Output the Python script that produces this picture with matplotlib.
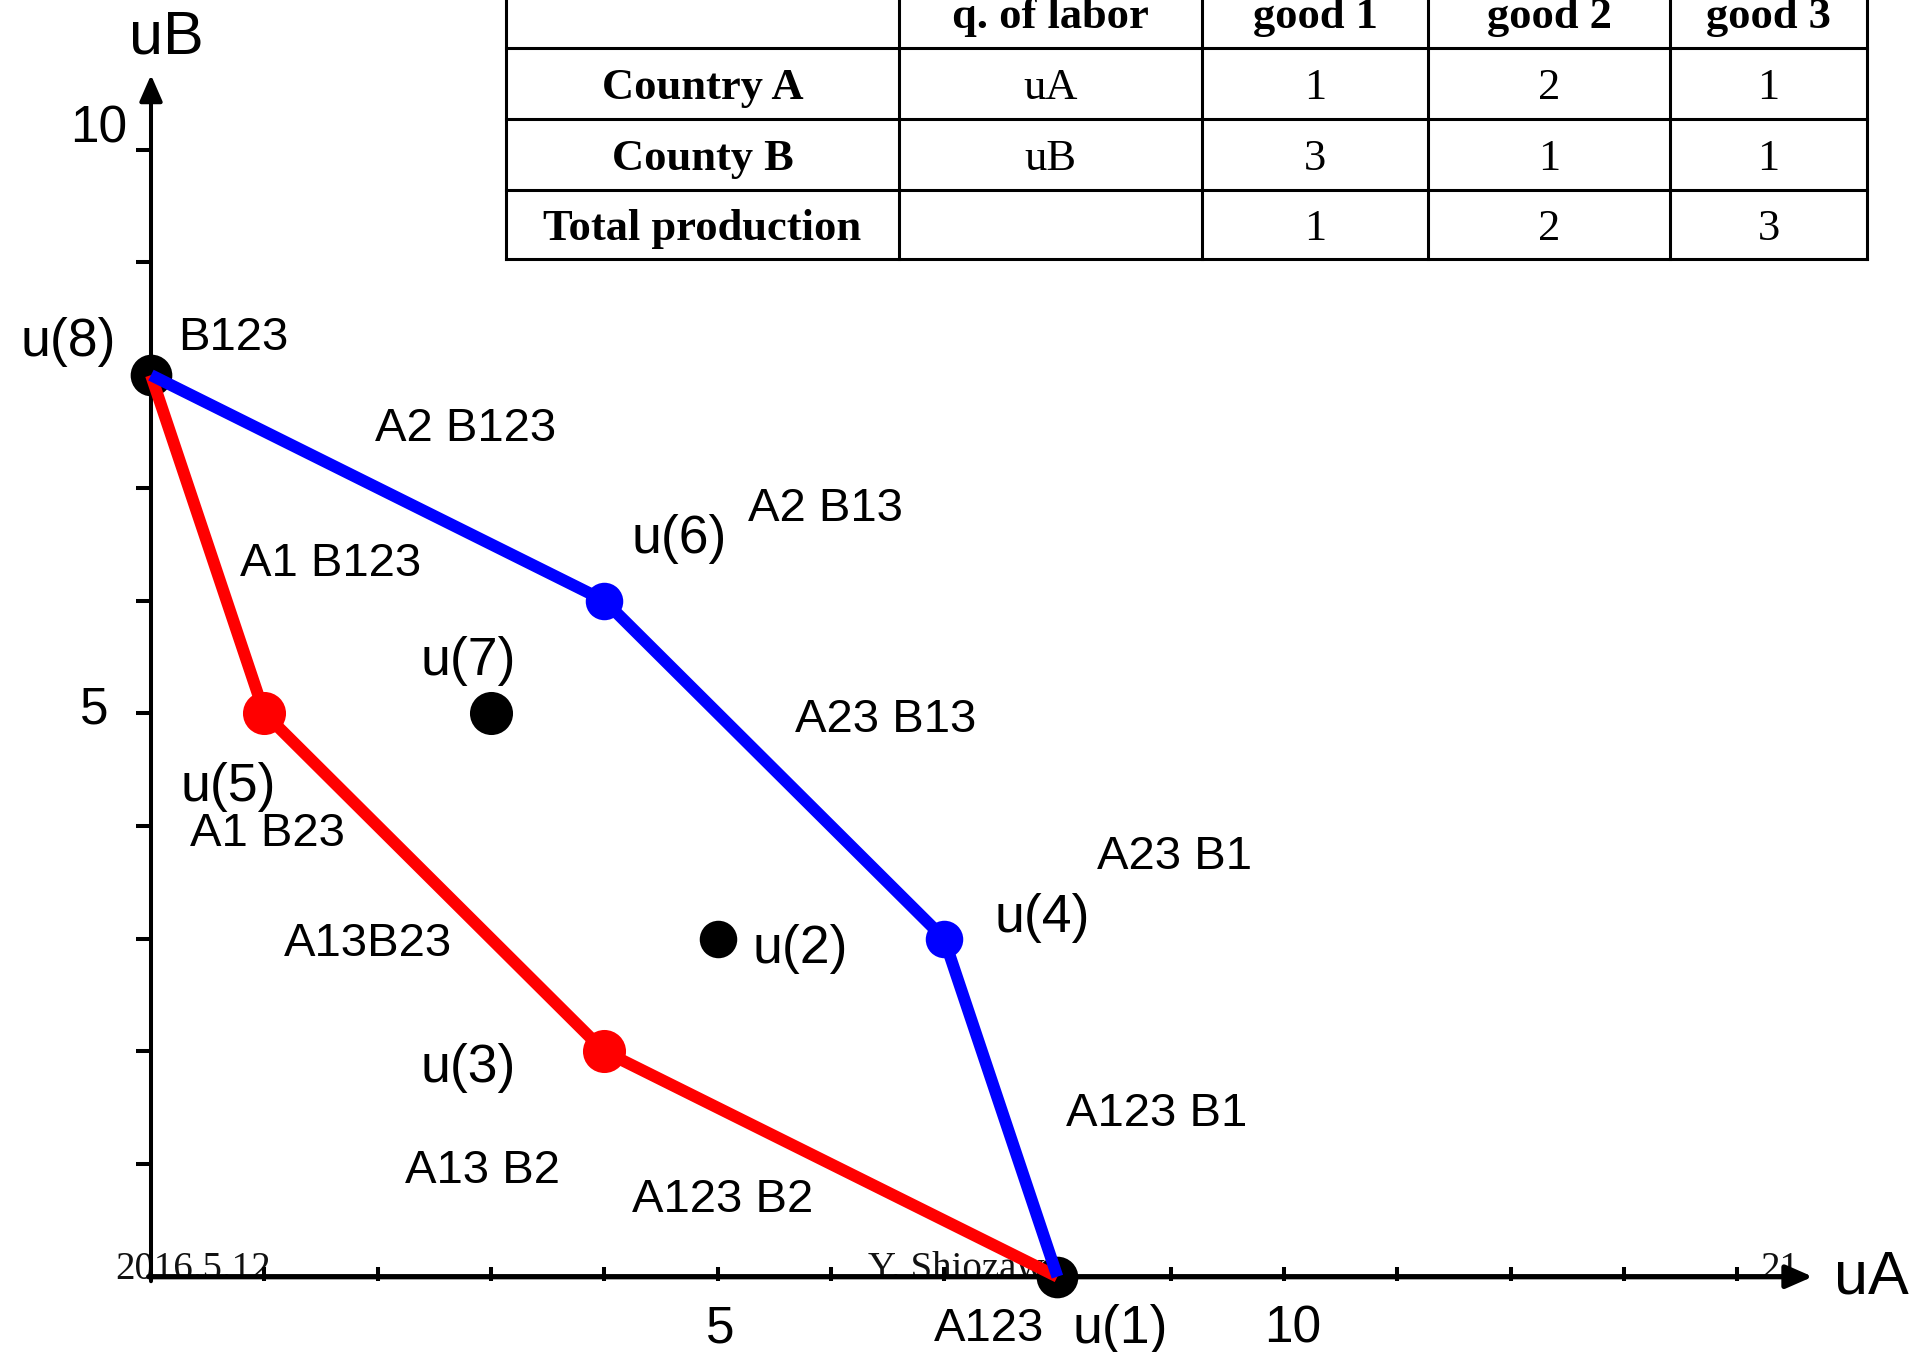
import matplotlib
matplotlib.use("Agg")
import matplotlib.pyplot as plt

# ---- data ----
red_x = [0, 1, 4, 8]
red_y = [8, 5, 2, 0]
blue_x = [0, 4, 7, 8]
blue_y = [8, 6, 3, 0]
end_x = [0, 8]
end_y = [8, 0]
inner_x = [3, 5]
inner_y = [5, 3]
x_ticks = list(range(1, 15))
y_ticks = list(range(1, 11))
x_tick_labels = {5: "5", 10: "10"}
y_tick_labels = {5: "5", 10: "10"}

table_header = ["", "q. of labor", "good 1", "good 2", "good 3"]
table_rows = [["Country A", "uA", "1", "2", "1"],
              ["County B", "uB", "3", "1", "1"],
              ["Total production", "", "1", "2", "3"]]

W, H = 1917, 1352
fig = plt.figure(figsize=(W / 100, H / 100), dpi=100)
ax = fig.add_axes([0, 0, 1, 1])
ox, oy, ux, uy = 151.0, 1276.7, 113.3, 112.7
ax.set_xlim(-ox / ux, (W - ox) / ux)
ax.set_ylim(-(H - oy) / uy, oy / uy)
ax.axis("off")

sans = "Liberation Sans"
serif = "Liberation Serif"
dy = -0.04

# footer texts (under the axis)
ax.text(-0.318, -0.02, "2016.5.12", fontsize=28, family=serif, color="#111",
        ha="left", va="baseline", zorder=1)
ax.text(6.33, -0.02, "Y. Shiozawa", fontsize=28, family=serif, color="#111",
        ha="left", va="baseline", zorder=1)
ax.text(14.55, -0.02, "21", fontsize=28, family=serif, color="#111",
        ha="right", va="baseline", zorder=1)

# axes with arrows
ax.annotate("", xy=(14.667, 0), xytext=(-0.02, 0),
            arrowprops=dict(arrowstyle="-|>,head_length=0.8,head_width=0.35",
                            lw=3.8, color="black", shrinkA=0, shrinkB=0,
                            mutation_scale=20), zorder=2)
ax.annotate("", xy=(0, 10.663), xytext=(0, -0.04),
            arrowprops=dict(arrowstyle="-|>,head_length=0.8,head_width=0.35",
                            lw=2.9, color="black", shrinkA=0, shrinkB=0,
                            mutation_scale=20), zorder=2)
ax.vlines(x_ticks, -0.038, 0.086, color="black", lw=2.9, zorder=2)
ax.hlines(y_ticks, -0.132, 0, color="black", lw=2.9, zorder=2)
x_lab_pos = {5: 5.02, 10: 10.08}
for v, s in x_tick_labels.items():
    ax.text(x_lab_pos[v], -0.42 + dy, s, fontsize=37, family=sans, ha="center", va="center")
y_lab_pos = {5: (-0.371, 5.07), 10: (-0.212, 10.22)}
for v, s in y_tick_labels.items():
    xx, yy = y_lab_pos[v]
    ax.text(xx, yy + dy, s, fontsize=37, family=sans, ha="right", va="center")
ax.text(-0.19, 11.03 + dy, "uB", fontsize=44, family=sans, ha="left", va="center")
ax.text(14.855, 0.03 + dy, "uA", fontsize=44, family=sans, ha="left", va="center")

# markers and lines
ax.plot(end_x, end_y, "o", color="black", ms=30, zorder=3, markeredgewidth=0)
ax.plot(red_x, red_y, "-", color="#ff0000", lw=8.6, solid_capstyle="butt",
        solid_joinstyle="round", zorder=4)
ax.plot(blue_x, blue_y, "-", color="#0000ff", lw=8.6, solid_capstyle="butt",
        solid_joinstyle="round", zorder=4)
ax.plot(red_x[1:3], red_y[1:3], "o", color="#ff0000", ms=31, markeredgewidth=0, zorder=5)
ax.plot(blue_x[1:3], blue_y[1:3], "o", color="#0000ff", ms=27, markeredgewidth=0, zorder=5)
ax.plot(inner_x[:1], inner_y[:1], "o", color="black", ms=31, markeredgewidth=0, zorder=5)
ax.plot(inner_x[1:], inner_y[1:], "o", color="black", ms=27, markeredgewidth=0, zorder=5)

# labels
u_labels = [("u(8)", -1.149, 8.338), ("u(6)", 4.245, 6.59), ("u(7)", 2.38, 5.503),
            ("u(5)", 0.256, 4.385), ("u(4)", 7.449, 3.227), ("u(2)", 5.313, 2.952),
            ("u(3)", 2.38, 1.891), ("u(1)", 8.129, -0.42)]
for s, x, y in u_labels:
    ax.text(x, y + dy, s, fontsize=38.5, family=sans, ha="left", va="center")
region_labels = [("B123", 0.243, 8.365), ("A2 B123", 1.977, 7.566),
                 ("A2 B13", 5.269, 6.856), ("A1 B123", 0.786, 6.36),
                 ("A23 B13", 5.681, 4.984), ("A1 B23", 0.34, 3.964),
                 ("A23 B1", 8.347, 3.768), ("A13B23", 1.17, 2.996),
                 ("A123 B1", 8.076, 1.488), ("A13 B2", 2.239, 0.982),
                 ("A123 B2", 4.245, 0.719), ("A123", 6.911, -0.42)]
for s, x, y in region_labels:
    ax.text(x, y + dy, s, fontsize=34, family=sans, ha="left", va="center")

# table (pixel space overlay)
tx = fig.add_axes([0, 0, 1, 1], facecolor="none")
tx.set_xlim(0, W)
tx.set_ylim(H, 0)
tx.axis("off")
col_edges = [506, 899, 1202, 1428, 1670, 1867]
row_edges = [-23, 47.7, 118.6, 189.5, 259.2]
for xe in col_edges:
    tx.plot([xe, xe], [row_edges[0], row_edges[-1]], color="black", lw=2.2,
            solid_capstyle="projecting")
for ye in row_edges[1:]:
    tx.plot([col_edges[0], col_edges[-1]], [ye, ye], color="black", lw=2.2,
            solid_capstyle="projecting")
all_rows = [table_header] + table_rows
for r, row in enumerate(all_rows):
    cy = (row_edges[r] + row_edges[r + 1]) / 2 + 5
    for c, val in enumerate(row):
        cx = (col_edges[c] + col_edges[c + 1]) / 2
        bold = (r == 0) or (c == 0)
        tx.text(cx, cy, val, fontsize=32, family=serif,
                fontweight="bold" if bold else "normal",
                ha="center", va="center")

fig.savefig("out.png", dpi=100)
